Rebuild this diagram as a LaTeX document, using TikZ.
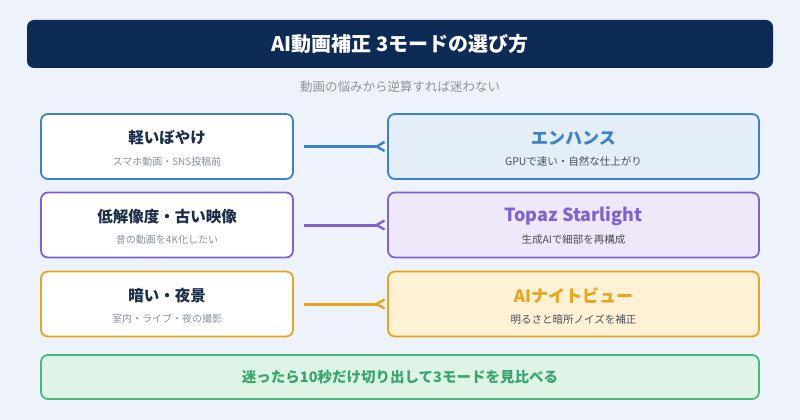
\documentclass[tikz,border=0pt]{standalone}
\usepackage{fontspec}
\setmainfont{Noto Sans CJK JP}
\usetikzlibrary{arrows.meta}
\definecolor{bg}{HTML}{EEF3FB}
\definecolor{navy}{HTML}{0D2B55}
\definecolor{cblue}{HTML}{3B82C9}
\definecolor{fblue}{HTML}{E4EEF9}
\definecolor{cpurple}{HTML}{7E63CC}
\definecolor{fpurple}{HTML}{EEE8FA}
\definecolor{corange}{HTML}{E6A51C}
\definecolor{forange}{HTML}{FEF1D5}
\definecolor{cgreen}{HTML}{45B97C}
\definecolor{fgreen}{HTML}{DDF4E6}
\definecolor{tgreen}{HTML}{38A56C}
\definecolor{ltitle}{HTML}{1A2E4A}
\definecolor{lsub}{HTML}{8A929C}
\definecolor{rsub}{HTML}{4A4F57}
\definecolor{subt}{HTML}{8C939C}
\tikzset{
  leftbox/.style={draw=#1, fill=white, line width=1.8pt, rounded corners=7pt, minimum width=252pt, minimum height=65pt, inner sep=0pt},
  rightbox/.style={draw=c#1, fill=f#1, line width=1.8pt, rounded corners=7pt, minimum width=371pt, minimum height=65pt, inner sep=0pt},
  ltitletext/.style={text=ltitle, font=\fontsize{15.5}{18}\selectfont\bfseries, inner sep=0pt},
  lsubtext/.style={text=lsub, font=\fontsize{10}{12}\selectfont, inner sep=0pt},
  rtitletext/.style={text=#1, font=\fontsize{17}{20}\selectfont\bfseries, inner sep=0pt},
  rsubtext/.style={text=rsub, font=\fontsize{10.5}{12}\selectfont, inner sep=0pt},
  conn/.style={draw=#1, line width=3pt, shorten <=10pt, shorten >=10pt},
  barb/.style={draw=#1, line width=2.4pt, line join=miter},
}
\begin{document}
\begin{tikzpicture}[x=1pt,y=-1pt]
\fill[bg] (0,0) rectangle (800,420);
\useasboundingbox (0,0) rectangle (800,420);
% title
\node[fill=navy, rounded corners=7pt, minimum width=746pt, minimum height=48pt, inner sep=0pt] (title) at (400,44) {};
\node[text=white, font=\fontsize{20}{23}\selectfont\bfseries, inner sep=0pt] (titletext) at (400,44) {AI動画補正 3モードの選び方};
\node[text=subt, font=\fontsize{12.5}{14}\selectfont, inner sep=0pt] (subtitle) at (400,87) {動画の悩みから逆算すれば迷わない};
% row 1
\node[leftbox=cblue] (l1) at (167,146.5) {};
\node[ltitletext] (l1t) at (167,138) {軽いぼやけ};
\node[lsubtext] (l1s) at (167,161.5) {スマホ動画・SNS投稿前};
\node[rightbox=blue] (r1) at (573.5,146.5) {};
\node[rtitletext=cblue] (r1t) at (573.5,138) {エンハンス};
\node[rsubtext] (r1s) at (573.5,161.5) {GPUで速い・自然な仕上がり};
\draw[conn=cblue] (l1) -- (r1);
\draw[barb=cblue] (r1.west) ++(-2.5,-4.5) -- ++(-8,4.5) -- ++(8,4.5);
% row 2
\node[leftbox=cpurple] (l2) at (167,225) {};
\node[ltitletext] (l2t) at (167,216.5) {低解像度・古い映像};
\node[lsubtext] (l2s) at (167,240) {昔の動画を4K化したい};
\node[rightbox=purple] (r2) at (573.5,225) {};
\node[rtitletext=cpurple, font=\fontsize{18}{20}\selectfont\bfseries] (r2t) at (573.5,216.5) {Topaz Starlight};
\node[rsubtext] (r2s) at (573.5,240) {生成AIで細部を再構成};
\draw[conn=cpurple] (l2) -- (r2);
\draw[barb=cpurple] (r2.west) ++(-2.5,-4.5) -- ++(-8,4.5) -- ++(8,4.5);
% row 3
\node[leftbox=corange] (l3) at (167,304) {};
\node[ltitletext] (l3t) at (167,295.5) {暗い・夜景};
\node[lsubtext] (l3s) at (167,319) {室内・ライブ・夜の撮影};
\node[rightbox=orange] (r3) at (573.5,304) {};
\node[rtitletext=corange] (r3t) at (573.5,295.5) {AIナイトビュー};
\node[rsubtext] (r3s) at (573.5,319) {明るさと暗所ノイズを補正};
\draw[conn=corange] (l3) -- (r3);
\draw[barb=corange] (r3.west) ++(-2.5,-4.5) -- ++(-8,4.5) -- ++(8,4.5);
% bottom
\node[draw=cgreen, fill=fgreen, line width=1.8pt, rounded corners=7pt, minimum width=718pt, minimum height=44pt, inner sep=0pt] (tip) at (400,377) {};
\node[text=tgreen, font=\fontsize{14.5}{16}\selectfont\bfseries, inner sep=0pt] (tiptext) at (400,377.5) {迷ったら10秒だけ切り出して3モードを見比べる};
\end{tikzpicture}
\end{document}
